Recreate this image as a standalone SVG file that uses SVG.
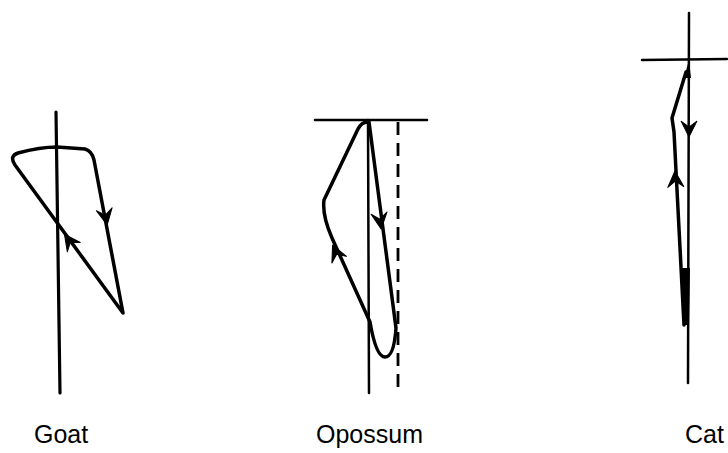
<svg xmlns="http://www.w3.org/2000/svg" xmlns:xlink="http://www.w3.org/1999/xlink" width="728" height="453" viewBox="0 0 728 453">
<style>
.ln{fill:none;stroke:#000;stroke-width:3.5;stroke-linecap:round;stroke-linejoin:round}
.ax{fill:none;stroke:#000;stroke-width:2.5;stroke-linecap:round}
.axg{fill:none;stroke:#000;stroke-width:3.2;stroke-linecap:round}
.dash{fill:none;stroke:#000;stroke-width:2.8;stroke-dasharray:13 8}
.lbl{font-family:"Liberation Sans",Arial,sans-serif;font-size:25px;fill:#000}
</style>
<defs>
<path id="ah" d="M1,0 L-15,-8 L-9,0 L-15,8 Z" fill="#000" stroke="#000" stroke-width="1" stroke-linejoin="round"/>
</defs>
<rect width="728" height="453" fill="#fff"/>
<g id="goat">
<line class="axg" x1="56" y1="112" x2="60" y2="393"/>
<path class="ln" d="M123 313 L15 165 Q9 156 18 153 Q40 147 57 147 L85 149 Q92 151 94 160 Z"/>
<use xlink:href="#ah" transform="translate(107,224) rotate(79.3)"/>
<use xlink:href="#ah" transform="translate(65,235) rotate(-126)"/>
<text class="lbl" x="34" y="443">Goat</text>
</g>
<g id="opossum">
<line class="ax" x1="315" y1="120" x2="427" y2="120"/>
<line class="ax" x1="368" y1="120" x2="369" y2="393"/>
<line class="dash" x1="398" y1="122" x2="398" y2="393"/>
<path class="ln" d="M369 122 L396 328 Q394 357 385 357 Q376 357 370 322 L332 238 Q322 215 324 200 L358 129 Q362 121 369 122 Z"/>
<use xlink:href="#ah" transform="translate(381,228) rotate(82.5)"/>
<use xlink:href="#ah" transform="translate(333,246) rotate(-114.3)"/>
<text class="lbl" x="316" y="443">Opossum</text>
</g>
<g id="cat">
<line class="ax" x1="689" y1="13" x2="688" y2="383"/>
<line class="ax" x1="642" y1="60" x2="727" y2="59"/>
<polygon points="689,60 684,78 691,78" fill="#000"/>
<path class="ln" d="M686 72 L672 118 L674 132 L684 325"/>
<polygon points="682,268 690,268 689,325 685,325" fill="#000"/>
<use xlink:href="#ah" transform="translate(689,136) rotate(90)"/>
<use xlink:href="#ah" transform="translate(675,172) rotate(-93)"/>
<text class="lbl" x="685" y="443">Cat</text>
</g>
</svg>
